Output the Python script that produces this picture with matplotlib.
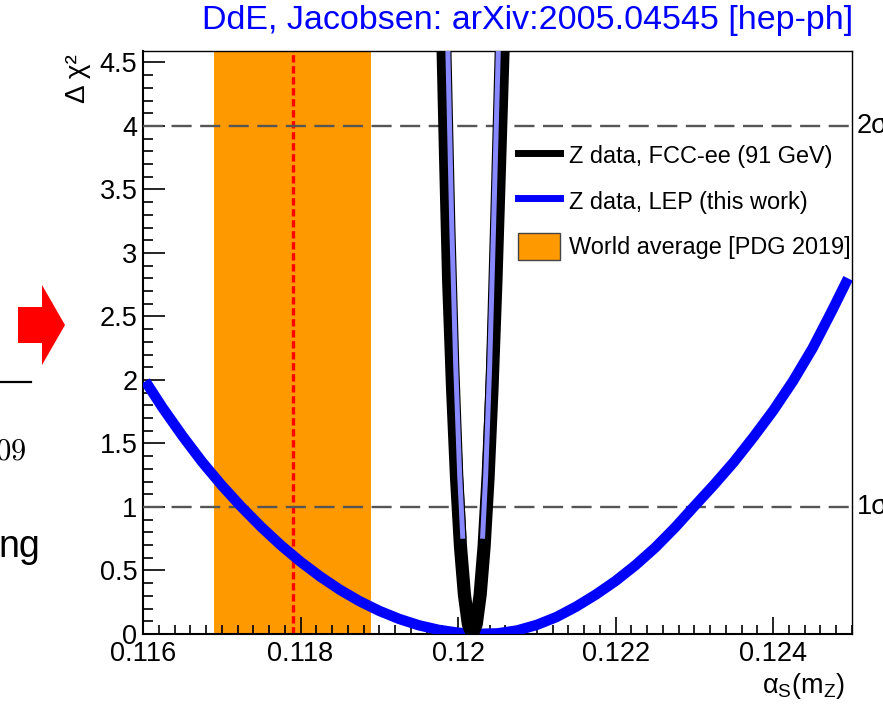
import matplotlib
matplotlib.use("Agg")
import matplotlib.pyplot as plt
from matplotlib.lines import Line2D
from matplotlib.patches import Patch, Polygon
import matplotlib.patheffects as pe
import numpy as np

plt.rcParams['font.family'] = ['Liberation Sans', 'DejaVu Sans']
plt.rcParams['mathtext.fontset'] = 'custom'
plt.rcParams['mathtext.rm'] = 'Liberation Sans'
plt.rcParams['mathtext.it'] = 'Liberation Sans:italic'
plt.rcParams['mathtext.sf'] = 'Liberation Sans'

# ---- data ----
# LEP Delta chi^2 curve
lep_x = [0.11603, 0.11625, 0.11650, 0.11675, 0.11700, 0.11725, 0.11750, 0.11775,
         0.11800, 0.11825, 0.11850, 0.11875, 0.11900, 0.11925, 0.11950, 0.11975,
         0.12000, 0.12025, 0.12050, 0.12075, 0.12100, 0.12125, 0.12150, 0.12175,
         0.12200, 0.12225, 0.12250, 0.12275, 0.12300, 0.12325, 0.12350, 0.12375,
         0.12400, 0.12425, 0.12450, 0.12475, 0.12495]
lep_y = [1.99, 1.78, 1.56, 1.355, 1.17, 1.00, 0.843, 0.699,
         0.569, 0.452, 0.348, 0.258, 0.182, 0.119, 0.069, 0.033,
         0.010, 0.001, 0.005, 0.028, 0.072, 0.134, 0.216, 0.311,
         0.418, 0.541, 0.679, 0.836, 1.007, 1.176, 1.354, 1.551,
         1.759, 1.99, 2.25, 2.55, 2.80]

# FCC-ee Delta chi^2 curve (black)
fcc_x = [0.11981, 0.11984, 0.11988, 0.11993, 0.11998, 0.12003, 0.12008, 0.12013,
         0.12018, 0.12023, 0.12028, 0.12033, 0.12038, 0.12043, 0.12048, 0.12053,
         0.12057]
fcc_y = [4.59, 3.78, 2.78, 1.93, 1.23, 0.69, 0.31, 0.077,
         0.00, 0.077, 0.31, 0.69, 1.23, 1.93, 2.78, 3.78,
         4.59]

# light-blue inner curve drawn over the black one (visible part only)
core_left_x = [0.11987, 0.11992, 0.11997, 0.12002, 0.12006]
core_left_y = [4.59, 3.20, 2.10, 1.25, 0.75]
core_right_x = [0.12031, 0.12035, 0.12040, 0.12045, 0.12051]
core_right_y = [0.75, 1.25, 2.10, 3.20, 4.59]

pdg_center = 0.1179
pdg_halfwidth = 0.0010
sigma_levels = [1, 4]
sigma_labels = ["1σ", "2σ"]

legend_labels = ["Z data, FCC-ee (91 GeV)", "Z data, LEP (this work)",
                 "World average [PDG 2019]"]
title_text = "DdE, Jacobsen: arXiv:2005.04545 [hep-ph]"

xticks = [0.116, 0.118, 0.120, 0.122, 0.124]
xticklabels = ["0.116", "0.118", "0.12", "0.122", "0.124"]
yticks = [0, 0.5, 1, 1.5, 2, 2.5, 3, 3.5, 4, 4.5]
yticklabels = ["0", "0.5", "1", "1.5", "2", "2.5", "3", "3.5", "4", "4.5"]

# ---- figure ----
W, H = 883, 708
fig = plt.figure(figsize=(W / 100, H / 100), dpi=100)
ax = fig.add_axes([143 / W, 1 - 634 / H, (852 - 143) / W, (634 - 51) / H])
ax.set_xlim(0.116, 0.125)
ax.set_ylim(0, 4.59)

orange = '#ff9900'
ax.axvspan(pdg_center - pdg_halfwidth, pdg_center + pdg_halfwidth,
           color=orange, lw=0, zorder=1)
ax.axvline(pdg_center, color='#ff0000', lw=2.4, ls=(0, (2.2, 1.1)), zorder=2)

for lvl in sigma_levels:
    ax.axhline(lvl, color='#555555', lw=1.7, ls=(0, (8.5, 3.6)), zorder=3)

ax.plot(lep_x, lep_y, color='#0000ff', lw=7.5, solid_joinstyle='round',
        solid_capstyle='butt', zorder=4)
ax.plot(fcc_x, fcc_y, color='black', lw=9.5, solid_joinstyle='round',
        solid_capstyle='butt', zorder=5)
core_fx = [pe.Stroke(linewidth=5.2, foreground='black'), pe.Normal()]
ax.plot(core_left_x, core_left_y, color='#8888ff', lw=3.6, zorder=6,
        solid_capstyle='butt', path_effects=core_fx)
ax.plot(core_right_x, core_right_y, color='#8888ff', lw=3.6, zorder=6,
        solid_capstyle='butt', path_effects=core_fx)

# ticks
ax.set_xticks(xticks)
ax.set_xticklabels(xticklabels)
ax.set_yticks(yticks)
ax.set_yticklabels(yticklabels)
ax.set_xticks(np.arange(0.1162, 0.12501, 0.0002), minor=True)
ax.set_yticks(np.arange(0.1, 4.59, 0.1), minor=True)
ax.tick_params(axis='both', which='both', direction='in', top=False, right=False,
               labelsize=19.5, color='black')
ax.tick_params(axis='y', which='major', length=16, width=1.2, pad=4)
ax.tick_params(axis='y', which='minor', length=7.5, width=1.2)
ax.tick_params(axis='x', which='major', length=12.5, width=1.2, pad=5)
ax.tick_params(axis='x', which='minor', length=6.5, width=1.2)
for s in ['left', 'bottom']:
    ax.spines[s].set_linewidth(1.5)
for s in ['top', 'right']:
    ax.spines[s].set_linewidth(1.0)

# legend
handles = [Line2D([], [], color='black', lw=5),
           Line2D([], [], color='#0000ff', lw=5),
           Patch(facecolor=orange, edgecolor='#444444', lw=1.0)]
leg = ax.legend(handles, legend_labels, loc='upper left',
                bbox_to_anchor=((518 - 143) / (852 - 143), 1 - (142 - 51) / (634 - 51)),
                frameon=False, fontsize=16.9, handlelength=1.79, handleheight=1.36,
                handletextpad=0.38, labelspacing=0.81, borderaxespad=0, borderpad=0)

# sigma labels at the right
for lvl, lab in zip(sigma_levels, sigma_labels):
    ax.text(1.007, lvl, lab, transform=ax.get_yaxis_transform(),
            ha='left', va='center', fontsize=19.5, clip_on=False)

# title
fig.text(853 / W, 1 - 21 / H, title_text, color='#0000ff', fontsize=24.5,
         ha='right', va='center')

# axis labels
fig.text(78 / W, 1 - 79 / H, "Δ χ²", rotation=90, fontsize=20,
         ha='center', va='center')
fig.text(845 / W, 1 - 686 / H, r'$\mathrm{α}_\mathrm{S}(\mathrm{m}_\mathrm{Z})$',
         fontsize=19.5, ha='right', va='center')

# slide fragments at the left
arrow_pts = np.array([(18, 307), (42, 307), (42, 285), (65, 325), (42, 365),
                      (42, 343), (18, 343)], float)
arrow_fig = np.column_stack([arrow_pts[:, 0] / W, 1 - arrow_pts[:, 1] / H])
fig.patches.append(Polygon(arrow_fig, closed=True, facecolor='#ff0000',
                           edgecolor='none', transform=fig.transFigure))
fig.add_artist(Line2D([0, 31 / W], [1 - 382 / H, 1 - 382 / H], color='black', lw=1.6,
                      transform=fig.transFigure))
fig.text(26 / W, 1 - 452 / H, r'$09$', math_fontfamily='cm', fontsize=22,
         ha='right', va='center')
fig.text(40 / W, 1 - 557 / H, "ng", fontsize=27, ha='right', va='baseline')

fig.savefig('out.png', dpi=100)
